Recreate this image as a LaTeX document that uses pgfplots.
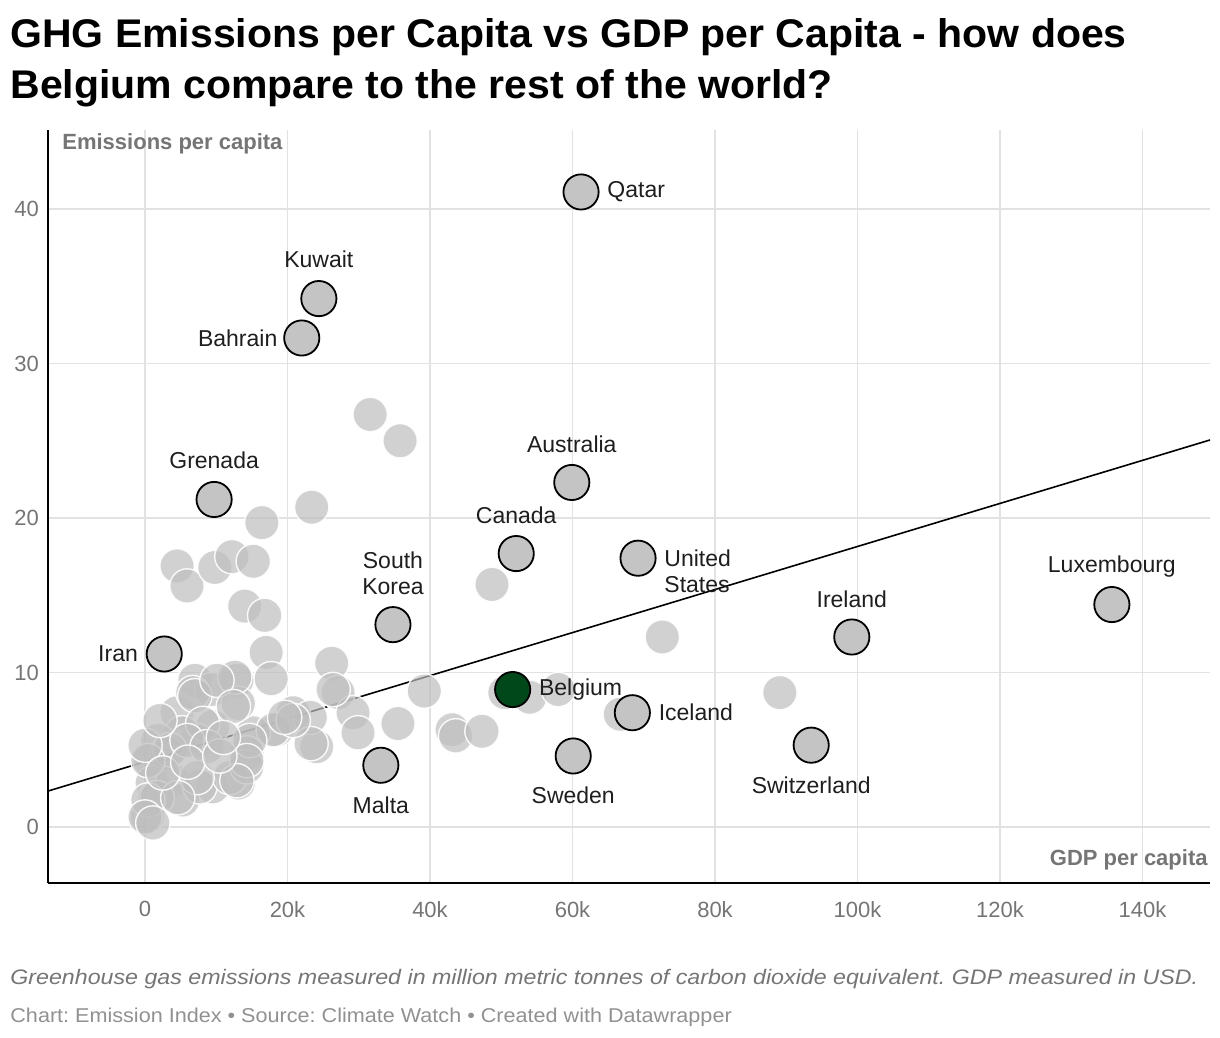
\documentclass[border=0pt]{standalone}
\usepackage{pgfplots}
\pgfplotsset{compat=1.18}
\usepackage{fontspec}
\setmainfont{Liberation Sans}
\frenchspacing
\definecolor{ptgray}{RGB}{190,190,190}
\definecolor{labgray}{RGB}{196,196,196}
\definecolor{belg}{RGB}{0,72,26}
\definecolor{tickgray}{RGB}{117,117,117}
\definecolor{gridgray}{RGB}{226,226,226}
\definecolor{txt}{RGB}{30,30,30}
\begin{document}
\begin{tikzpicture}
\path[use as bounding box] (0,0) rectangle (610pt,-519pt);
% title
\node[anchor=base west, inner sep=0, font=\bfseries\fontsize{20pt}{25pt}\selectfont] at (5pt,-24pt) {\scalebox{1.025}[1]{GHG Emissions per Capita vs GDP per Capita - how does}};
\node[anchor=base west, inner sep=0, font=\bfseries\fontsize{20pt}{25pt}\selectfont] at (5pt,-49pt) {\scalebox{1.025}[1]{Belgium compare to the rest of the world?}};
\begin{axis}[
  at={(24pt,-441.5pt)}, anchor=south west,
  width=581pt, height=376.5pt, scale only axis,
  xmin=-13614, xmax=149474, ymin=-3.62, ymax=45.11,
  axis lines*=left,
  axis line style={black, line width=1pt, -},
  xtick={0,20000,40000,60000,80000,100000,120000,140000},
  xticklabels={0,20k,40k,60k,80k,100k,120k,140k},
  scaled x ticks=false,
  ytick={0,10,20,30,40},
  major tick length=0pt,
  grid=major,
  major grid style={color=gridgray, line width=0.75pt},
  tick label style={font=\fontsize{11pt}{13pt}\selectfont, text=tickgray},
  xticklabel style={yshift=-5.5pt},
  yticklabel style={xshift=-1pt},
  /pgf/number format/assume math mode=true,
  clip=false,
]
% unlabeled countries
\addplot[only marks, mark=*, mark size=8.6pt,
  mark options={fill=ptgray, fill opacity=0.7, draw=white, draw opacity=0.9, line width=0.7pt}]
table {
x y
31600 26.7
35800 25.0
23400 20.7
16400 19.7
4500 16.9
5900 15.6
9800 16.8
12200 17.5
15200 17.2
14000 14.3
16800 13.7
17000 11.3
17700 9.6
26200 10.6
27100 8.7
29200 7.4
29900 6.1
35500 6.7
39200 8.8
24100 5.2
20800 7.4
18500 6.3
15200 6.1
14300 4.8
13100 2.85
9500 2.6
43100 6.3
43600 5.9
47300 6.2
48700 15.7
72600 12.3
89100 8.7
50500 8.7
54000 8.4
58000 8.9
66700 7.3
23200 7.1
18000 6.3
23300 5.4
20800 6.9
19600 7.1
7000 9.5
9400 8.9
12900 9.5
13100 8.0
4500 7.4
6700 8.7
9500 6.5
7300 5.6
5200 6.1
1800 5.6
700 4.3
3100 4.8
1000 2.85
1400 1.9
300 0.65
3900 3.0
5300 1.75
7700 2.6
11900 3.2
14300 3.9
7000 8.5
8100 6.7
3500 5.0
400 4.3
5900 5.6
8700 5.2
14700 5.6
14300 4.3
12900 3.0
7300 3.2
1700 1.9
400 1.75
0 0.65
1100 0.26
4600 1.9
12600 9.7
10100 9.5
0 5.3
2100 6.9
12400 7.8
26400 8.9
2500 3.5
6000 4.2
10500 4.6
11000 5.8
};
% trend line
\addplot[black, line width=0.8pt] coordinates {(-13614,2.33) (149474,25.05)};
% labelled countries
\addplot[only marks, mark=*, mark size=8.8pt,
  mark options={fill=labgray, draw=black, line width=0.9pt}]
table {
x y
61200 41.1
24400 34.2
22000 31.65
9700 21.2
59900 22.3
52100 17.7
69200 17.4
34800 13.1
2700 11.2
135700 14.4
99200 12.3
68400 7.4
93500 5.3
60100 4.6
33100 4.0
};
\addplot[only marks, mark=*, mark size=8.8pt,
  mark options={fill=belg, draw=black, line width=0.9pt}]
coordinates {(51600,8.9)};
\coordinate (qat) at (axis cs:61200,41.1);
\coordinate (kuw) at (axis cs:24400,34.2);
\coordinate (bah) at (axis cs:22000,31.65);
\coordinate (gre) at (axis cs:9700,21.2);
\coordinate (aus) at (axis cs:59900,22.3);
\coordinate (can) at (axis cs:52100,17.7);
\coordinate (usa) at (axis cs:69200,17.4);
\coordinate (kor) at (axis cs:34800,13.1);
\coordinate (irn) at (axis cs:2700,11.2);
\coordinate (lux) at (axis cs:135700,14.4);
\coordinate (irl) at (axis cs:99200,12.3);
\coordinate (bel) at (axis cs:51600,8.9);
\coordinate (isl) at (axis cs:68400,7.4);
\coordinate (che) at (axis cs:93500,5.3);
\coordinate (swe) at (axis cs:60100,4.6);
\coordinate (mlt) at (axis cs:33100,4.0);
\coordinate (tl) at (rel axis cs:0,1);
\coordinate (br) at (rel axis cs:1,0);
\end{axis}
% labels
\tikzset{lab/.style={font=\fontsize{11.5pt}{13pt}\selectfont, text=txt, inner sep=0pt}}
\node[lab, anchor=west] at (qat) [xshift=13pt] {Qatar};
\node[lab] at (kuw) [yshift=19.5pt] {Kuwait};
\node[lab, anchor=east] at (bah) [xshift=-12pt] {Bahrain};
\node[lab] at (gre) [yshift=19.5pt] {Grenada};
\node[lab] at (aus) [yshift=19pt] {Australia};
\node[lab] at (can) [yshift=19pt] {Canada};
\node[lab, anchor=west, align=left] at (usa) [xshift=13pt, yshift=-6.5pt] {United\\States};
\node[lab, align=center] at (kor) [yshift=25.5pt] {South\\Korea};
\node[lab, anchor=east] at (irn) [xshift=-13pt] {Iran};
\node[lab] at (lux) [yshift=19pt] {Luxembourg};
\node[lab] at (irl) [yshift=19pt] {Ireland};
\node[lab, anchor=west] at (bel) [xshift=13pt] {Belgium};
\node[lab, anchor=west] at (isl) [xshift=13pt] {Iceland};
\node[lab] at (che) [yshift=-20pt] {Switzerland};
\node[lab] at (swe) [yshift=-19.5pt] {Sweden};
\node[lab] at (mlt) [yshift=-20pt] {Malta};
% axis titles
\node[anchor=west, inner sep=0, font=\bfseries\fontsize{11pt}{13pt}\selectfont, text=tickgray] at (tl) [xshift=7pt, yshift=-7pt] {Emissions per capita};
\node[anchor=east, inner sep=0, font=\bfseries\fontsize{11pt}{13pt}\selectfont, text=tickgray] at (br) [xshift=-1pt, yshift=11.5pt] {GDP per capita};
% notes
\node[anchor=base west, inner sep=0, font=\itshape\fontsize{10.5pt}{13pt}\selectfont, text=tickgray] at (5pt,-492pt) {\scalebox{1.105}[1]{Greenhouse gas emissions measured in million metric tonnes of carbon dioxide equivalent. GDP measured in USD.}};
\node[anchor=base west, inner sep=0, font=\fontsize{10pt}{12pt}\selectfont, text=tickgray!80] at (5pt,-511pt) {\scalebox{1.08}[1]{Chart: Emission Index • Source: Climate Watch • Created with Datawrapper}};
\end{tikzpicture}
\end{document}
